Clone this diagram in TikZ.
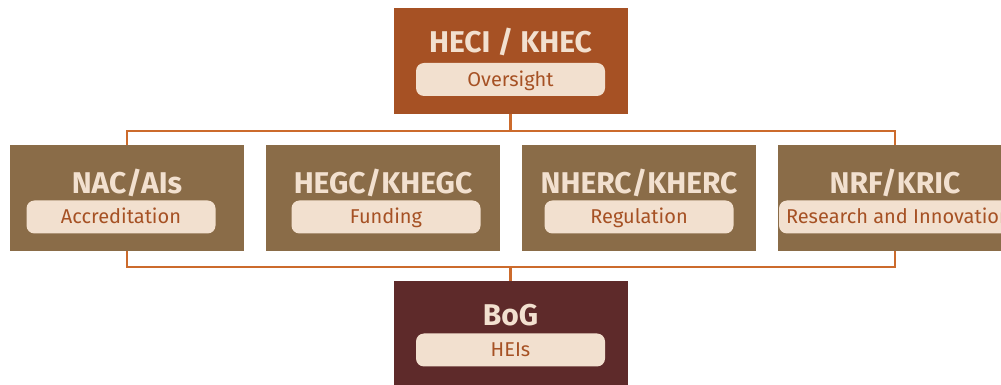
\documentclass[tikz,border=0pt]{standalone}
\usepackage{fontspec}
\setmainfont{Fira Sans}
\usetikzlibrary{positioning,calc}
\definecolor{prust}{HTML}{A65124}
\definecolor{pbrown}{HTML}{8A6C48}
\definecolor{pwine}{HTML}{5E2A2A}
\definecolor{pcream}{HTML}{F2E0CF}
\definecolor{plink}{HTML}{CC6B2C}
\tikzset{
  % solid body block; the label and pill sit on top of it
  body/.style  = {rectangle, fill=#1, minimum width=234pt, minimum height=106pt, inner sep=0pt},
  body/.default = pbrown,
  title/.style = {font=\bfseries\fontsize{30}{32}\selectfont, text=pcream, anchor=base, inner sep=0pt},
  pill/.style  = {rectangle, rounded corners=8pt, fill=pcream, text=prust, minimum width=189pt,
                  minimum height=33pt, inner xsep=7pt, inner ysep=0pt, text height=14pt, text depth=0pt,
                  font=\fontsize{20}{22}\selectfont},
  link/.style  = {plink, line width=2.2pt},
}

\begin{document}
\begin{tikzpicture}[x=1pt,y=1pt]
\useasboundingbox (0,0) rectangle (1001,385);
\coordinate (topc) at (510.5,324);
% blocks
\node[body=prust] (heci) at (topc) {};
\node[body] (nac)  at (127,187) {};
\node[body] (hegc) at (383,187) {};
\node[body] (nherc) at (639,187) {};
\node[body] (nrf)  at (895,187) {};
\node[body=pwine] (bog) at (510.5,51) {};
% links between the rows
\draw[link] (heci.south) -- ++(0,-16);
\draw[link] (nac.north) -- ++(0,14) -| (nrf.north);
\draw[link] (nac.south) -- ++(0,-16) -| (nrf.south);
\draw[link] (bog.north) -- ++(0,14);
% titles
\node[title] (heci t)  at ($(heci.center)+(0,8)$)  {HECI / KHEC};
\node[title] (nac t)   at ($(nac.center)+(0,4)$)   {NAC/AIs};
\node[title] (hegc t)  at ($(hegc.center)+(0,4)$)  {HEGC/KHEGC};
\node[title] (nherc t) at ($(nherc.center)+(0,4)$) {NHERC/KHERC};
\node[title] (nrf t)   at ($(nrf.center)+(0,4)$)   {NRF/KRIC};
\node[title] (bog t)   at ($(bog.center)+(0,8)$)   {BoG};
% role pills
\node[pill] (heci p)  at ($(heci.center)+(0,-18.5)$) {Oversight};
\node[pill] (nac p)   at ($(nac.center)+(-6,-19)$)   {Accreditation};
\node[pill] (hegc p)  at ($(hegc.center)+(3,-19)$)   {Funding};
\node[pill] (nherc p) at ($(nherc.center)+(0,-19)$)  {Regulation};
\node[pill, anchor=west] (nrf p) at ($(nrf.west)+(1,-19)$) {Research and Innovation};
\node[pill] (bog p)   at ($(bog.center)+(0,-16)$)    {HEIs};
\end{tikzpicture}
\end{document}
